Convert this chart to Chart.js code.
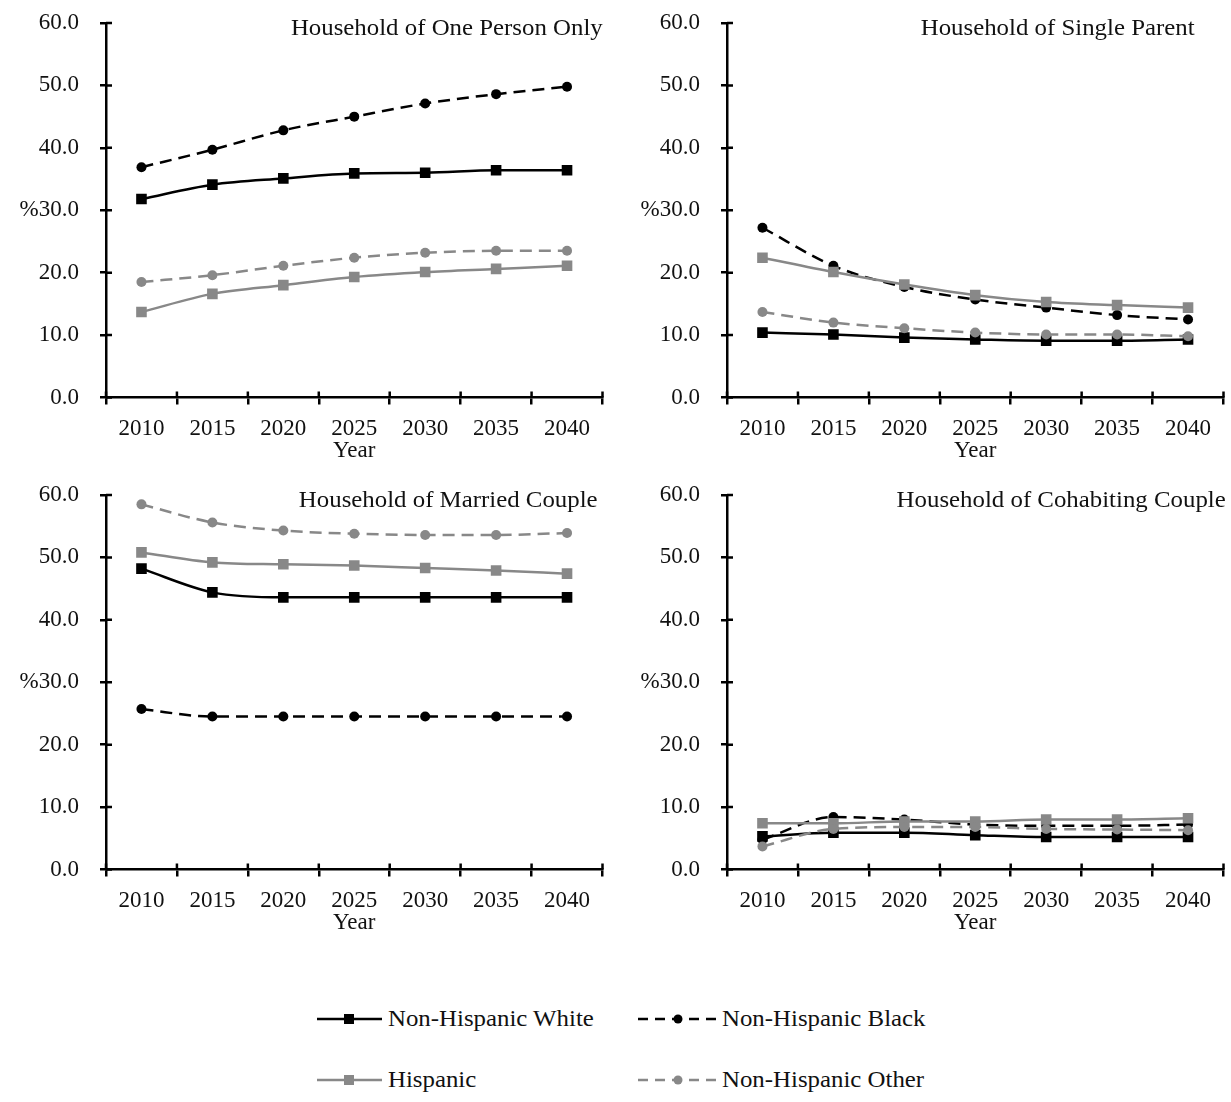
<!DOCTYPE html>
<html>
<head>
<meta charset="utf-8">
<script src="https://cdn.jsdelivr.net/npm/chart.js@4.4.1/dist/chart.umd.min.js"></script>
<style>
  body { margin: 0; background: #fff; width: 1231px; height: 1102px; position: relative; overflow: hidden;
         font-family: "Liberation Serif", "Times New Roman", serif; color: #111; }
  .panel { position: absolute; }
  .ptitle { position: absolute; font-size: 23px; line-height: 24px; white-space: nowrap;
            transform: scaleX(1.08); transform-origin: right center; }
  .leg { position: absolute; font-size: 23px; line-height: 24px; white-space: nowrap; }
  .leg svg { position: absolute; top: 0; }
  .leg span { position: absolute; top: 0; transform: scaleX(1.08); transform-origin: left center; }
</style>
</head>
<body>

<div class="panel" style="left:0;top:0"><canvas id="c1" width="610" height="465"></canvas></div>
<div class="panel" style="left:621px;top:0"><canvas id="c2" width="610" height="465"></canvas></div>
<div class="panel" style="left:0;top:472px"><canvas id="c3" width="610" height="465"></canvas></div>
<div class="panel" style="left:621px;top:472px"><canvas id="c4" width="610" height="465"></canvas></div>

<div class="ptitle" style="right:628px;top:16px">Household of One Person Only</div>
<div class="ptitle" style="right:36px;top:16px">Household of Single Parent</div>
<div class="ptitle" style="right:633px;top:488px">Household of Married Couple</div>
<div class="ptitle" style="right:5px;top:488px">Household of Cohabiting Couple</div>

<div class="leg" style="left:316px;top:1007px">
  <svg width="70" height="24"><line x1="1" y1="12" x2="66" y2="12" stroke="#000" stroke-width="2.5"/><rect x="28" y="7" width="10" height="10" fill="#000"/></svg>
  <span style="left:72px">Non-Hispanic White</span>
</div>
<div class="leg" style="left:636px;top:1007px">
  <svg width="86" height="24"><line x1="2" y1="12" x2="80" y2="12" stroke="#000" stroke-width="2.5" stroke-dasharray="10,7"/><circle cx="42" cy="12" r="4.5" fill="#000"/></svg>
  <span style="left:86px">Non-Hispanic Black</span>
</div>
<div class="leg" style="left:316px;top:1068px">
  <svg width="70" height="24"><line x1="1" y1="12" x2="66" y2="12" stroke="#888" stroke-width="2.5"/><rect x="28" y="7" width="10" height="10" fill="#888"/></svg>
  <span style="left:72px">Hispanic</span>
</div>
<div class="leg" style="left:636px;top:1068px">
  <svg width="86" height="24"><line x1="2" y1="12" x2="80" y2="12" stroke="#888" stroke-width="2.5" stroke-dasharray="10,7"/><circle cx="42" cy="12" r="4.5" fill="#888"/></svg>
  <span style="left:86px">Non-Hispanic Other</span>
</div>

<script>
const years = ["2010", "2015", "2020", "2025", "2030", "2035", "2040"];
const yTicks = [0, 10, 20, 30, 40, 50, 60];

// Household of one person only
const onePersonWhite    = [31.8, 34.1, 35.1, 35.9, 36.0, 36.4, 36.4];
const onePersonBlack    = [36.9, 39.7, 42.8, 45.0, 47.1, 48.6, 49.8];
const onePersonHispanic = [13.7, 16.6, 18.0, 19.3, 20.1, 20.6, 21.1];
const onePersonOther    = [18.5, 19.6, 21.1, 22.4, 23.2, 23.5, 23.5];

// Household of single parent
const singleWhite    = [10.4, 10.1, 9.6, 9.3, 9.1, 9.1, 9.3];
const singleBlack    = [27.2, 21.1, 17.7, 15.7, 14.4, 13.2, 12.5];
const singleHispanic = [22.4, 20.1, 18.1, 16.4, 15.3, 14.8, 14.4];
const singleOther    = [13.7, 12.0, 11.1, 10.4, 10.1, 10.1, 9.8];

// Household of married couple
const marriedWhite    = [48.2, 44.4, 43.6, 43.6, 43.6, 43.6, 43.6];
const marriedBlack    = [25.7, 24.5, 24.5, 24.5, 24.5, 24.5, 24.5];
const marriedHispanic = [50.8, 49.2, 48.9, 48.7, 48.3, 47.9, 47.4];
const marriedOther    = [58.5, 55.6, 54.3, 53.8, 53.6, 53.6, 53.9];

// Household of cohabiting couple
const cohabWhite    = [5.3, 5.9, 5.9, 5.5, 5.2, 5.2, 5.2];
const cohabBlack    = [4.8, 8.4, 8.0, 7.2, 7.0, 7.0, 7.2];
const cohabHispanic = [7.4, 7.4, 7.7, 7.7, 8.0, 8.0, 8.2];
const cohabOther    = [3.7, 6.5, 6.8, 6.8, 6.5, 6.4, 6.3];

const GRAY = "#888";
const FONT = { family: "'Liberation Serif', 'Times New Roman', serif", size: 23 };

function makeSets(white, black, hisp, other) {
    const base = { borderWidth: 2.5, tension: 0.3, cubicInterpolationMode: "monotone" };
    // drawn back to front so black series sit on top
    return [
        { ...base, label: "Non-Hispanic Other", data: other, borderColor: GRAY, backgroundColor: GRAY,
          borderDash: [12, 7], pointStyle: "circle", pointRadius: 5, pointBorderWidth: 0 },
        { ...base, label: "Hispanic", data: hisp, borderColor: GRAY, backgroundColor: GRAY,
          pointStyle: "rect", pointRadius: 7.5, pointBorderWidth: 0 },
        { ...base, label: "Non-Hispanic Black", data: black, borderColor: "#000", backgroundColor: "#000",
          borderDash: [12, 7], pointStyle: "circle", pointRadius: 5, pointBorderWidth: 0 },
        { ...base, label: "Non-Hispanic White", data: white, borderColor: "#000", backgroundColor: "#000",
          pointStyle: "rect", pointRadius: 7.5, pointBorderWidth: 0 }
    ];
}

// short tick stubs on the inner side of each axis (the reference ticks cross the axis)
const innerTicks = {
    id: "innerTicks",
    afterDatasetsDraw(chart) {
        const { ctx, scales: { x, y } } = chart;
        ctx.save();
        ctx.strokeStyle = "#000";
        ctx.lineWidth = 2.5;
        ctx.beginPath();
        for (let i = 0; i <= years.length; i++) {
            const px = x.getPixelForValue(i - 0.5);
            ctx.moveTo(px, y.bottom);
            ctx.lineTo(px, y.bottom - 6);
        }
        yTicks.forEach(v => {
            const py = y.getPixelForValue(v);
            ctx.moveTo(x.left, py);
            ctx.lineTo(x.left + 6, py);
        });
        ctx.stroke();
        ctx.restore();
    }
};

function drawPanel(id, sets) {
    new Chart(document.getElementById(id), {
        type: "line",
        data: { labels: years, datasets: sets },
        plugins: [innerTicks],
        options: {
            responsive: false,
            animation: false,
            layout: { padding: { top: 23, right: 3, bottom: 0, left: 0 } },
            plugins: { legend: { display: false }, tooltip: { enabled: false } },
            scales: {
                x: {
                    offset: true,
                    grid: { offset: true, drawOnChartArea: false, drawTicks: true, tickLength: 7, color: "#000", lineWidth: 2.5 },
                    border: { color: "#000", width: 2.5 },
                    ticks: { color: "#111", font: FONT, padding: 11, maxRotation: 0, autoSkip: false },
                    title: { display: true, text: "Year", color: "#111", font: FONT, padding: 0 },
                    afterFit: s => { s.height = 67.5; }
                },
                y: {
                    min: 0,
                    max: 60,
                    grid: { drawOnChartArea: false, drawTicks: true, tickLength: 6, color: "#000", lineWidth: 2.5 },
                    border: { color: "#000", width: 2.5 },
                    ticks: {
                        stepSize: 10,
                        color: "#111",
                        font: FONT,
                        padding: 21,
                        callback: v => (v === 30 ? "%" : "") + v.toFixed(1)
                    },
                    afterFit: s => { s.width = 106; s.paddingTop = 0; s.paddingBottom = 0; }
                }
            }
        }
    });
}

drawPanel("c1", makeSets(onePersonWhite, onePersonBlack, onePersonHispanic, onePersonOther));
drawPanel("c2", makeSets(singleWhite, singleBlack, singleHispanic, singleOther));
drawPanel("c3", makeSets(marriedWhite, marriedBlack, marriedHispanic, marriedOther));
drawPanel("c4", makeSets(cohabWhite, cohabBlack, cohabHispanic, cohabOther));
</script>
</body>
</html>
